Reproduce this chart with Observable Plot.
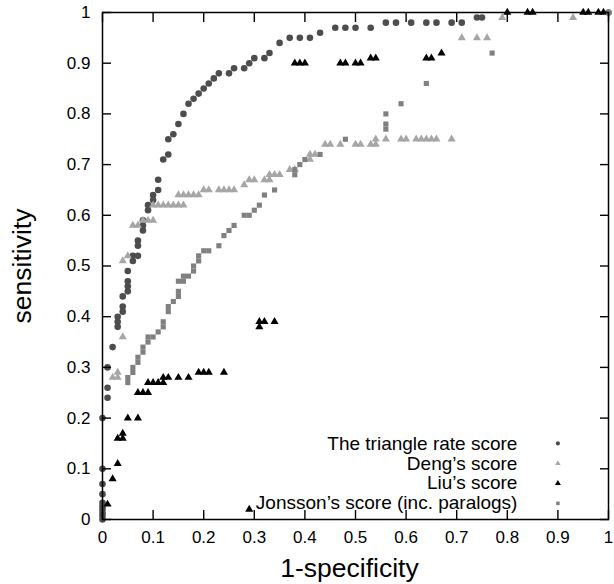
<!DOCTYPE html>
<html><head><meta charset="utf-8">
<script src="https://cdn.jsdelivr.net/npm/d3@7"></script>
<script src="https://cdn.jsdelivr.net/npm/@observablehq/plot@0.6"></script>
<style>body{margin:0;background:#fff}</style>
</head><body><div id="chart"></div>
<script>
// [1-specificity, sensitivity]
const triangleRate = [
  [0,0],[0,0.007],[0,0.013],[0,0.02],[0,0.026],[0,0.033],[0,0.05],[0,0.07],[0,0.10],[0,0.20],
  [0.01,0.24],[0.01,0.26],[0.01,0.30],[0.02,0.34],[0.03,0.38],[0.03,0.39],[0.03,0.40],
  [0.04,0.41],[0.04,0.42],[0.04,0.44],[0.05,0.45],[0.05,0.46],[0.05,0.47],[0.05,0.49],
  [0.06,0.51],[0.06,0.52],[0.07,0.52],[0.07,0.54],[0.07,0.55],[0.08,0.57],[0.08,0.58],[0.08,0.59],
  [0.09,0.61],[0.09,0.62],[0.10,0.63],[0.10,0.64],[0.11,0.65],[0.11,0.67],[0.12,0.71],
  [0.13,0.72],[0.13,0.75],[0.14,0.76],[0.15,0.78],[0.16,0.80],[0.17,0.82],[0.18,0.83],
  [0.19,0.84],[0.20,0.85],[0.21,0.86],[0.22,0.87],[0.23,0.88],[0.25,0.88],[0.26,0.89],
  [0.28,0.89],[0.29,0.90],[0.30,0.91],[0.32,0.91],[0.33,0.92],[0.35,0.94],[0.37,0.95],
  [0.39,0.95],[0.41,0.95],[0.43,0.96],[0.46,0.97],[0.48,0.97],[0.50,0.97],[0.53,0.97],
  [0.56,0.98],[0.58,0.98],[0.61,0.98],[0.64,0.98],[0.66,0.98],[0.69,0.98],[0.71,0.98],
  [0.74,0.99],[0.75,0.99],[1.0,1.0]
];
const dengScore = [
  [0.02,0.28],[0.03,0.28],[0.03,0.29],[0.04,0.36],[0.04,0.51],[0.05,0.52],
  [0.06,0.58],[0.07,0.58],[0.08,0.59],[0.09,0.59],[0.10,0.59],
  [0.10,0.62],[0.11,0.62],[0.12,0.62],[0.13,0.62],[0.14,0.62],[0.15,0.62],[0.16,0.62],
  [0.15,0.64],[0.16,0.64],[0.17,0.64],[0.18,0.64],[0.19,0.64],[0.20,0.65],[0.21,0.65],
  [0.23,0.65],[0.24,0.65],[0.25,0.65],[0.26,0.65],[0.28,0.66],[0.29,0.67],[0.30,0.67],
  [0.32,0.67],[0.33,0.67],[0.33,0.68],[0.34,0.68],[0.35,0.68],[0.37,0.69],[0.38,0.69],
  [0.41,0.71],[0.41,0.72],[0.42,0.72],[0.44,0.74],[0.45,0.74],[0.47,0.74],[0.50,0.74],
  [0.51,0.74],[0.53,0.74],[0.54,0.74],[0.54,0.75],[0.56,0.75],[0.59,0.75],[0.60,0.75],
  [0.62,0.75],[0.63,0.75],[0.64,0.75],[0.65,0.75],[0.66,0.75],[0.69,0.75],
  [0.71,0.95],[0.74,0.95],[0.76,0.95],[0.79,0.99],[0.93,0.99]
];
const liuScore = [
  [0.01,0.03],[0.02,0.08],[0.03,0.11],[0.03,0.16],[0.04,0.16],[0.04,0.17],[0.05,0.20],[0.07,0.20],
  [0.07,0.25],[0.08,0.25],[0.09,0.25],[0.09,0.27],[0.10,0.27],[0.11,0.27],[0.12,0.27],
  [0.12,0.28],[0.13,0.28],[0.15,0.28],[0.17,0.28],[0.19,0.29],[0.20,0.29],[0.21,0.29],[0.24,0.29],
  [0.29,0.02],[0.31,0.38],[0.31,0.39],[0.32,0.39],[0.34,0.39],
  [0.38,0.90],[0.39,0.90],[0.40,0.90],[0.47,0.90],[0.48,0.90],[0.50,0.90],[0.51,0.90],
  [0.53,0.91],[0.54,0.91],[0.64,0.91],[0.65,0.91],[0.67,0.92],
  [0.80,1.0],[0.84,1.0],[0.85,1.0],[0.95,1.0],[0.96,1.0],[0.98,1.0],[0.99,1.0]
];
const jonssonScore = [
  [0.05,0.27],[0.05,0.28],[0.06,0.29],[0.06,0.30],[0.07,0.31],[0.07,0.32],[0.08,0.33],[0.08,0.34],
  [0.09,0.35],[0.09,0.36],[0.10,0.36],[0.11,0.37],[0.12,0.38],[0.12,0.39],[0.13,0.41],[0.13,0.42],
  [0.14,0.43],[0.15,0.44],[0.15,0.45],[0.15,0.47],[0.16,0.47],[0.16,0.48],[0.17,0.48],
  [0.18,0.49],[0.18,0.50],[0.19,0.51],[0.19,0.52],[0.20,0.53],[0.21,0.53],[0.23,0.54],
  [0.24,0.56],[0.25,0.57],[0.26,0.58],[0.28,0.60],[0.29,0.60],[0.30,0.61],[0.31,0.62],
  [0.32,0.64],[0.34,0.65],[0.38,0.68],[0.38,0.69],[0.39,0.70],[0.40,0.71],[0.43,0.72],
  [0.48,0.75],[0.56,0.77],[0.56,0.78],[0.56,0.80],[0.59,0.82],[0.64,0.86],[0.77,0.92],[1.0,1.0]
];

const seriesNames = ["The triangle rate score","Deng\u2019s score","Liu\u2019s score","Jonsson\u2019s score (inc. paralogs)"];
const seriesColors = ["#4d4d4d","#a6a6a6","#000000","#808080"];
const seriesSymbols = ["circle","triangle","triangle","square"];
const seriesR = [3.3,3.0,3.0,2.9];
const legendR = [2.1,2.0,2.2,2.0];
const ticks = [0,0.1,0.2,0.3,0.4,0.5,0.6,0.7,0.8,0.9,1];
const fmt = d => String(+d.toFixed(1));
// legend placement in data units
const legendTextX = 0.82, legendSymX = 0.90, legendTopY = 0.15, legendStep = 0.0394;
const legendRows = seriesNames.map((name,i) => ({name, i, y: legendTopY - i*legendStep}));

const allSeries = [triangleRate, dengScore, liuScore, jonssonScore];
const pointMarks = allSeries.map((data,i) => Plot.dot(data, {
  x: d => d[0], y: d => d[1], symbol: seriesSymbols[i], r: seriesR[i],
  fill: seriesColors[i], stroke: "none"
}));
const legendMarks = legendRows.map(row => Plot.dot([row], {
  x: () => legendSymX, y: d => d.y, symbol: seriesSymbols[row.i], r: legendR[row.i],
  fill: seriesColors[row.i], stroke: "none"
}));

const tickAxis = anchor => (anchor==="top"||anchor==="bottom")
  ? Plot.axisX(ticks, {anchor, tickSize: -9, text: null, strokeWidth: 1.4, label: null})
  : Plot.axisY(ticks, {anchor, tickSize: -9, text: null, strokeWidth: 1.4, label: null});

const chart = Plot.plot({
  width: 614, height: 584,
  marginLeft: 102, marginRight: 6, marginTop: 12, marginBottom: 65,
  style: {fontFamily: "'Liberation Sans', Arial, sans-serif", fontSize: "17px", background: "#fff", color: "#000"},
  x: {domain: [0,1]},
  y: {domain: [0,1]},
  marks: [
    ...pointMarks,
    ...legendMarks,
    Plot.text(legendRows, {x: () => legendTextX, y: d => d.y, text: d => d.name, textAnchor: "end", fontSize: 19, fill: "#000"}),
    Plot.frame({stroke: "#000", strokeWidth: 1.5}),
    tickAxis("bottom"), tickAxis("top"), tickAxis("left"), tickAxis("right"),
    Plot.axisX(ticks, {anchor: "bottom", tickSize: 0, tickPadding: 11, tickFormat: fmt, label: null}),
    Plot.axisY(ticks, {anchor: "left", tickSize: 0, tickPadding: 12, tickFormat: fmt, label: null}),
    Plot.text(["1-specificity"], {frameAnchor: "bottom", lineAnchor: "bottom", textAnchor: "middle", dy: 57, dx: -6, fontSize: 26.5, text: d => d}),
    Plot.text(["sensitivity"], {frameAnchor: "left", textAnchor: "middle", lineAnchor: "middle", dx: -80, rotate: -90, fontSize: 26.5, text: d => d})
  ]
});
document.getElementById("chart").appendChild(chart);
</script></body></html>
